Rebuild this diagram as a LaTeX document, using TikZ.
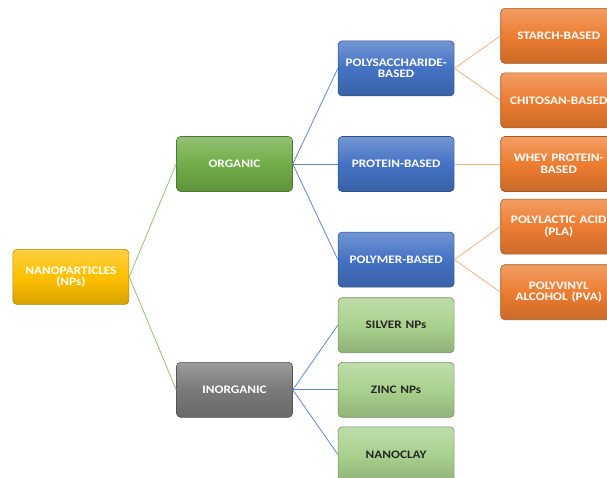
\documentclass[tikz,border=0pt]{standalone}
\usepackage{fontspec}
\setmainfont{Carlito}
\newfontfamily\boxfont[FakeStretch=1.15]{Carlito}
\usepackage{xcolor}
\usepackage{tikz}
\usetikzlibrary{positioning,calc}

\definecolor{npyellow}{HTML}{FFC000}
\definecolor{orggreen}{HTML}{70AD47}
\definecolor{inorggray}{HTML}{7A7A7A}
\definecolor{polyblue}{HTML}{4472C4}
\definecolor{leaforange}{HTML}{ED7D31}
\definecolor{metalgreen}{HTML}{A9D18E}

\tikzset{
  box/.style={rectangle, rounded corners=4pt, minimum width=116pt,
    minimum height=55pt, text width=114pt, align=center, inner sep=1pt,
    font=\boxfont\bfseries\fontsize{11.5}{11.5}\selectfont, text=white,
    line width=0.6pt},
  tinted/.style={box, top color=#1!75!white, bottom color=#1!85!black,
    middle color=#1, draw=#1!70!black},
  npbox/.style={tinted=npyellow},
  orgbox/.style={tinted=orggreen},
  inorgbox/.style={tinted=inorggray},
  bluebox/.style={tinted=polyblue},
  orangebox/.style={tinted=leaforange},
  greenbox/.style={tinted=metalgreen, text=black!85},
  trunk/.style={draw=orggreen!75!white, line width=0.8pt},
  branch/.style={draw=polyblue!85!white, line width=0.8pt},
  twig/.style={draw=leaforange!60!white, line width=0.8pt}
}

\begin{document}
\begin{tikzpicture}[x=1pt, y=1pt, node distance=9pt and 45pt]
  \useasboundingbox (0,0) rectangle (607,-477);
  \clip (0,0) rectangle (607,-477);
  % Define nodes
  \node[orgbox] (organic) at (234.5,-164) {ORGANIC};
  \node[bluebox, right=of organic] (protein) {PROTEIN-BASED};
  \node[bluebox, above=40pt of protein] (polysac) {POLYSACCHARIDE-\\BASED};
  \node[bluebox, below=40pt of protein] (polymer) {POLYMER-BASED};
  \node[greenbox, below=10pt of polymer] (silver) {SILVER NPs};
  \node[greenbox, below=of silver] (zinc) {ZINC NPs};
  \node[greenbox, below=of zinc] (nanoclay) {NANOCLAY};
  \node[inorgbox, left=of zinc] (inorganic) {INORGANIC};
  \coordinate (split) at ($(organic.west)!0.5!(inorganic.west)$);
  \node[npbox, left=47pt of split] (nps) {NANOPARTICLES\\(NPs)};
  \node[orangebox, right=46pt of protein] (whey) {WHEY PROTEIN-\\BASED};
  \node[orangebox, above=8pt of whey] (chitosan) {CHITOSAN-BASED};
  \node[orangebox, above=of chitosan] (starch) {STARCH-BASED};
  \node[orangebox, below=7pt of whey] (pla) {POLYLACTIC ACID\\(PLA)};
  \node[orangebox, below=10pt of pla] (pva) {POLYVINYL\\ALCOHOL (PVA)};
  % Connectors
  \foreach \c in {organic,inorganic}
    \draw[trunk] (nps.east) -- (\c.west);
  \foreach \c in {polysac,protein,polymer}
    \draw[branch] (organic.east) -- (\c.west);
  \foreach \c in {silver,zinc,nanoclay}
    \draw[branch] (inorganic.east) -- (\c.west);
  \foreach \c in {starch,chitosan}
    \draw[twig] (polysac.east) -- (\c.west);
  \draw[twig] (protein.east) -- (whey.west);
  \foreach \c in {pla,pva}
    \draw[twig] (polymer.east) -- (\c.west);
\end{tikzpicture}
\end{document}
